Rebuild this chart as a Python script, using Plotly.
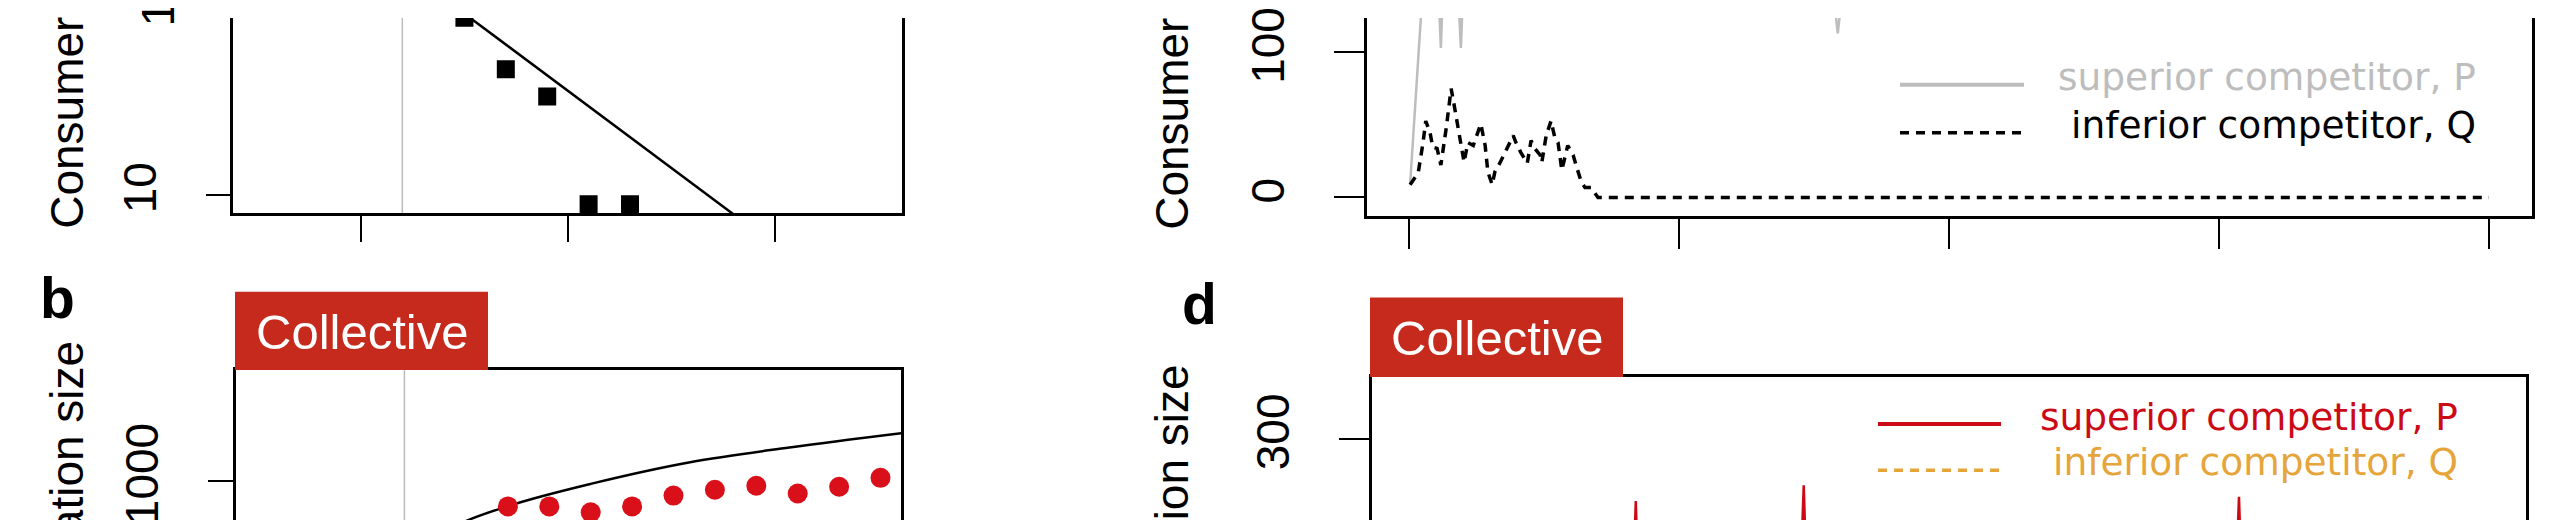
import plotly.graph_objects as go

W, H = 2560, 520
FONT = "Liberation Sans"
WIDE = "DejaVu Sans"

# panel a: consumer population size (log) over days
a_day = [5, 7, 9, 11, 13]
a_count = [86, 46, 33, 8.9, 8.9]
a_fit_day = [4, 20]
a_fit_count = [109, 5.4]

# panel b: collective treatment
b_day = [3, 5, 7, 9, 11, 13, 15, 17, 19, 21, 23, 25]
b_count = [513, 531, 733, 733, 682, 733, 836, 898, 942, 857, 931, 1037]
b_fit_day = [3, 4.3, 7.1, 11, 15.8, 20.6, 26.2]
b_fit_count = [420, 564, 741, 964, 1254, 1500, 1795]

switch_day = 2

# panel c: competitors over time
c_q_t = [0.2, 1.7, 2.6, 3.1, 3.9, 4.4, 5.2, 5.9, 6.9, 7.4, 7.8, 8.3, 8.7, 9.3,
         10.2, 10.9, 11.9, 12.4, 13.3, 14.1, 14.6, 15.4, 15.9, 16.9, 17.8, 19.3,
         19.8, 20.7, 21.9, 22.6, 23.3, 24.3, 24.6, 25.4, 26.3, 27.0, 27.6, 28.3,
         29.4, 30.4, 31.1, 31.9, 32.6, 33.7, 35.0, 200]
c_q = [8.8, 16.9, 37.8, 52.7, 44.6, 34.5, 33.8, 22.3, 48, 62.8, 75, 64.9, 56, 44.6,
       24.3, 37.8, 35.8, 41.2, 50.7, 35.8, 17.6, 8.8, 17.6, 24.3, 31.1, 42.6,
       37.8, 31.1, 23.6, 39.2, 33.8, 29.1, 24.3, 42.6, 52.7, 41.2, 37.8, 18.9,
       35.8, 29.1, 20.3, 10.8, 6.8, 6.8, 0, 0]
c_p_t = [0.2, 1.2, 2.2, 3, 4, 5, 5.5, 5.9, 6.3, 7.5, 8.8, 9.2, 9.6, 10, 12, 16, 22,
         30, 40, 50, 60, 70, 77, 78.6, 79.4, 80.2, 85, 95, 110, 125, 140, 155,
         170, 185, 200]
c_p = [8.8, 66, 124, 150, 170, 160, 140, 103, 145, 175, 150, 135, 103, 140, 165,
       180, 170, 185, 175, 190, 170, 180, 165, 140, 113, 140, 175, 185, 170, 180,
       190, 175, 185, 170, 180]

# panel d: collective, competitors over time
d_p_t = [0, 5, 10, 20, 30, 41.5, 42, 42.5, 50, 60.5, 60.9, 61.3, 67, 72.6, 73.1,
         73.6, 85, 100, 115, 130, 145, 153.2, 153.7, 154.2, 170, 185, 200]
d_p = [10, 150, 170, 160, 175, 200, 257, 195, 170, 205, 240, 200, 180, 215, 268,
       205, 170, 185, 165, 190, 175, 210, 260, 200, 180, 170, 185]
d_q_t = [0, 10, 20, 30, 40, 60, 80, 100, 120, 140, 160, 180, 200]
d_q = [10, 40, 60, 45, 55, 50, 60, 45, 55, 50, 40, 55, 50]

GRAY = "#bdbdbd"
RED = "#cc0a16"
DOT_RED = "#d9101a"
BOX_RED = "#c62a1c"
ORANGE = "#e6a53a"
DASH = "9px,7px"


def px(x):
    return x / W


def py(y):
    return 1 - y / H


fig = go.Figure()

# panel a
fig.add_trace(go.Scatter(x=a_fit_day, y=a_fit_count, mode="lines",
                         line=dict(color="black", width=2.5),
                         xaxis="x", yaxis="y", showlegend=False))
fig.add_trace(go.Scatter(x=a_day, y=a_count, mode="markers",
                         marker=dict(symbol="square", size=18, color="black"),
                         xaxis="x", yaxis="y", showlegend=False))
# panel b
fig.add_trace(go.Scatter(x=b_fit_day, y=b_fit_count, mode="lines",
                         line=dict(color="black", width=2.5, shape="spline"),
                         xaxis="x2", yaxis="y2", showlegend=False))
fig.add_trace(go.Scatter(x=b_day, y=b_count, mode="markers",
                         marker=dict(symbol="circle", size=20, color=DOT_RED),
                         xaxis="x2", yaxis="y2", showlegend=False))
# panel c
fig.add_trace(go.Scatter(x=c_p_t, y=c_p, mode="lines", line=dict(color=GRAY, width=2.5),
                         xaxis="x3", yaxis="y3", showlegend=False))
fig.add_trace(go.Scatter(x=c_q_t, y=c_q, mode="lines",
                         line=dict(color="black", width=3.5, dash=DASH),
                         xaxis="x3", yaxis="y3", showlegend=False))
# panel d
fig.add_trace(go.Scatter(x=d_p_t, y=d_p, mode="lines", line=dict(color=RED, width=2.5),
                         xaxis="x4", yaxis="y4", showlegend=False))
fig.add_trace(go.Scatter(x=d_q_t, y=d_q, mode="lines",
                         line=dict(color=ORANGE, width=3.5, dash=DASH),
                         xaxis="x4", yaxis="y4", showlegend=False))

common_x = dict(showgrid=False, zeroline=False, showticklabels=False,
                linecolor="black", linewidth=2.5, tickcolor="black", tickwidth=2)
common_y = dict(showgrid=False, zeroline=False, showline=True, mirror=True,
                linecolor="black", linewidth=2.5, ticks="outside", tickcolor="black",
                tickwidth=2, tickangle=-90, ticklabelstandoff=32, ticklabeloverflow="allow",
                tickfont=dict(family=FONT, size=46, color="black"))

fig.update_layout(
    width=W, height=H,
    margin=dict(l=0, r=0, t=0, b=0),
    paper_bgcolor="white", plot_bgcolor="white",
    xaxis=dict(domain=[px(225), px(894)], range=[-6.18, 26.14], anchor="y",
               showline=True, ticks="outside", ticklen=26, tickvals=[0, 10, 20], **common_x),
    yaxis=dict(domain=[py(199), 1], type="log", range=[0.9016, 1.933], anchor="x",
               tickvals=[10], ticktext=["10"], ticklen=24, **common_y),
    xaxis2=dict(domain=[px(228), px(893)], range=[-6.135, 25.99], anchor="y2", side="top",
                showline=True, ticks="", **common_x),
    yaxis2=dict(domain=[0, py(359)], type="log", range=[2.751, 3.585], anchor="x2",
                tickvals=[1000], ticktext=["1000"], ticklen=25, **common_y),
    xaxis3=dict(domain=[px(1359), px(2524)], range=[-7.78, 207.96], anchor="y3",
                showline=True, ticks="outside", ticklen=30,
                tickvals=[0, 50, 100, 150, 200], **common_x),
    yaxis3=dict(domain=[py(202), 1], range=[-12.84, 123.65], anchor="x3",
                tickvals=[0, 100], ticklen=30, **common_y),
    xaxis4=dict(domain=[px(1364), px(2518)], range=[-6.85, 206.85], anchor="y4", side="top",
                showline=True, ticks="", **common_x),
    yaxis4=dict(domain=[0, py(366)], range=[238.5, 342.6], anchor="x4",
                tickvals=[300], ticklen=30, **common_y),
)

# treatment switch day
for xr, yr in [("x", "y"), ("x2", "y2")]:
    fig.add_shape(type="line", xref=xr, yref=yr + " domain", x0=switch_day, x1=switch_day,
                  y0=0, y1=1, line=dict(color="#bbbbbb", width=1.5), layer="below")

ann = []


def text(x, y, s, size, color="black", angle=0, xa="center", ya="middle", bold=False,
         family=FONT):
    ann.append(dict(x=px(x), y=py(y), xref="paper", yref="paper",
                    text=("<b>%s</b>" % s) if bold else s,
                    showarrow=False, textangle=angle, xanchor=xa, yanchor=ya,
                    font=dict(family=family, size=size, color=color)))


# axis titles
title = "Consumer population size"
text(59, 217, title, 46, angle=-90, ya="bottom")
text(1164, 218, title, 46, angle=-90, ya="bottom")
text(59, 327, title, 46, angle=-90, ya="top")
text(1164, 351, title, 46, angle=-90, ya="top")
# panel a tick label above the shown range
text(150, -30, "100", 46, angle=-90)

# panel letters
text(49, 285, "b", 57, bold=True)
text(1191, 292, "d", 57, bold=True)

# Collective boxes
for x0, x1, y0, y1 in [(227, 480, 279, 359), (1362, 1615, 285, 366)]:
    fig.add_shape(type="rect", xref="paper", yref="paper", x0=px(x0), x1=px(x1),
                  y0=py(y1), y1=py(y0), fillcolor=BOX_RED, line=dict(width=0))
    text((x0 + x1) / 2, (y0 + y1) / 2 + 1, "Collective", 49, color="white")

# legends
legends = [
    (1892, 2016, 68, 2470, 60, "superior competitor, P", GRAY, None),
    (1892, 2016, 117, 2470, 109, "inferior competitor, Q", "black", DASH),
    (1870, 1993, 414, 2452, 407, "superior competitor, P", RED, None),
    (1870, 1993, 461, 2452, 453, "inferior competitor, Q", ORANGE, DASH),
]
for x0, x1, y, xr, yt, label, col, dash in legends:
    fig.add_shape(type="line", xref="paper", yref="paper", x0=px(x0), x1=px(x1),
                  y0=py(y), y1=py(y), line=dict(color=col, width=4 if dash is None else 3.5,
                                                dash=dash if dash else "solid"))
    text(xr, yt, label, 37.5, color=col, xa="right", family=WIDE)

fig.update_layout(annotations=ann)
fig.write_html("out.html")
